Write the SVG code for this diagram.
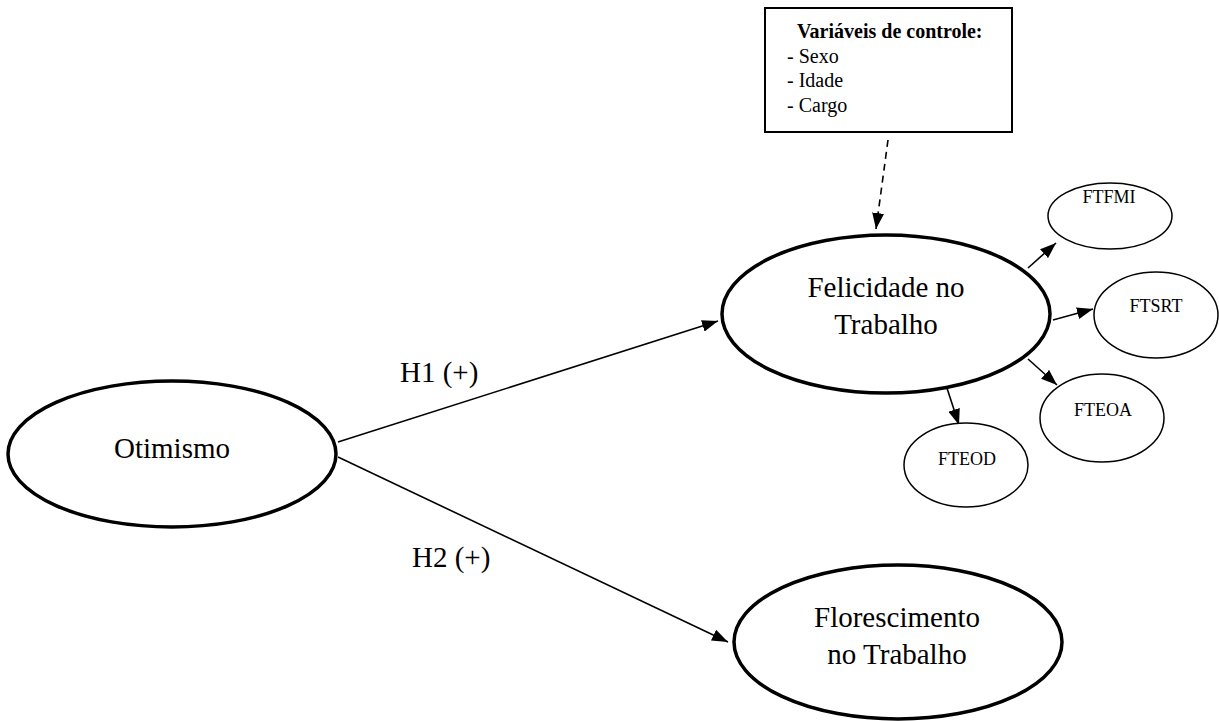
<svg xmlns="http://www.w3.org/2000/svg" width="1219" height="721" viewBox="0 0 1219 721">
  <style>
    text { font-family: "Liberation Serif", "Times New Roman", serif; fill: #000; }
    .big { font-size: 29px; text-anchor: middle; }
    .small { font-size: 18px; text-anchor: middle; }
    .ctl { font-size: 20px; }
    .thick { fill: #fff; stroke: #000; stroke-width: 3.5; }
    .thin { fill: #fff; stroke: #000; stroke-width: 1.5; }
    .edge { stroke: #000; stroke-width: 1.6; fill: none; }
  </style>
  <defs>
    <marker id="arr" viewBox="0 0 10 10" refX="10" refY="5" markerWidth="10" markerHeight="10" markerUnits="userSpaceOnUse" orient="auto">
      <path d="M0,0 L10,5 L0,10 z" fill="#000"/>
    </marker>
    <marker id="arrL" viewBox="0 0 16 12" refX="16" refY="6" markerWidth="16" markerHeight="12" markerUnits="userSpaceOnUse" orient="auto">
      <path d="M0,0 L16,6 L0,12 z" fill="#000"/>
    </marker>
  </defs>
  <rect width="1219" height="721" fill="#fff"/>

  <g id="connectors">
    <line class="edge" x1="338" y1="442" x2="718" y2="321" marker-end="url(#arrL)"/>
    <line class="edge" x1="338" y1="457" x2="728" y2="642" marker-end="url(#arrL)"/>
    <line class="edge" x1="888" y1="140" x2="876" y2="229" stroke-dasharray="7,5" marker-end="url(#arrL)"/>
    <line class="edge" x1="1028" y1="268" x2="1056" y2="243" marker-end="url(#arrL)"/>
    <line class="edge" x1="1053" y1="320" x2="1093" y2="309" marker-end="url(#arrL)"/>
    <line class="edge" x1="1028" y1="359" x2="1057" y2="385" marker-end="url(#arrL)"/>
    <line class="edge" x1="945" y1="382" x2="959" y2="425" marker-end="url(#arrL)"/>
    <text x="400" y="382" style="font-size:29px">H1 (+)</text>
    <text x="412" y="567" style="font-size:29px">H2 (+)</text>
  </g>

  <g id="controle">
    <rect x="765" y="8" width="247" height="124" fill="#fff" stroke="#000" stroke-width="2"/>
    <text class="ctl" x="797" y="38" font-weight="bold">Variáveis de controle:</text>
    <text class="ctl" x="787" y="63">- Sexo</text>
    <text class="ctl" x="787" y="87">- Idade</text>
    <text class="ctl" x="787" y="112">- Cargo</text>
  </g>

  <g id="otimismo">
    <ellipse class="thick" cx="172" cy="454" rx="164" ry="73"/>
    <text class="big" x="172" y="458">Otimismo</text>
  </g>

  <g id="felicidade">
    <ellipse class="thick" cx="886" cy="314" rx="164" ry="79"/>
    <text class="big" x="886" y="297">Felicidade no</text>
    <text class="big" x="886" y="334">Trabalho</text>
  </g>

  <g id="florescimento">
    <ellipse class="thick" cx="898" cy="642" rx="164" ry="77"/>
    <text class="big" x="897" y="627">Florescimento</text>
    <text class="big" x="897" y="664">no Trabalho</text>
  </g>

  <g id="ftfmi">
    <ellipse class="thin" cx="1110" cy="216" rx="62" ry="33"/>
    <text class="small" x="1109" y="203">FTFMI</text>
  </g>

  <g id="ftsrt">
    <ellipse class="thin" cx="1156" cy="315" rx="62" ry="43"/>
    <text class="small" x="1156" y="312">FTSRT</text>
  </g>

  <g id="fteoa">
    <ellipse class="thin" cx="1102" cy="418" rx="62" ry="44"/>
    <text class="small" x="1103" y="416">FTEOA</text>
  </g>

  <g id="fteod">
    <ellipse class="thin" cx="966" cy="465" rx="62" ry="42"/>
    <text class="small" x="967" y="465">FTEOD</text>
  </g>
</svg>
